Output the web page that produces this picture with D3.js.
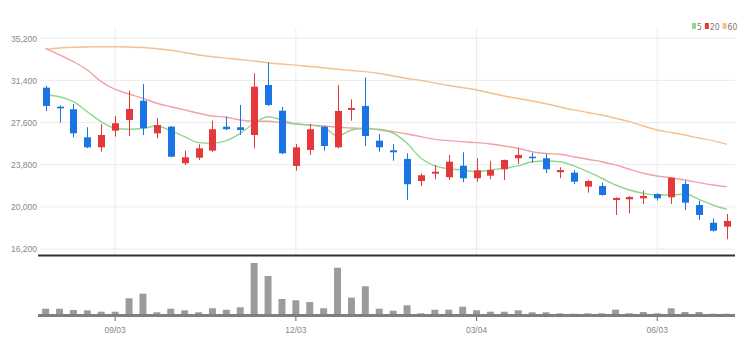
<!DOCTYPE html>
<html>
<head>
<meta charset="utf-8">
<script src="https://cdn.jsdelivr.net/npm/d3@7"></script>
<style>
  body { margin: 0; background: #fff; }
  svg { display: block; font-family: "Liberation Sans Narrow", "DejaVu Sans Condensed", sans-serif; }
  .axis text { fill: #888; font-size: 8.5px; }
  .axis path { display: none; }
  .x-axis line { stroke: #666; }
  .legend text { fill: #777; font-size: 8.5px; }
</style>
</head>
<body>
<svg id="chart"></svg>
<script>
// weekly candles, MM/DD
const dates = ['07/30','08/06','08/13','08/20','08/27','09/03','09/10','09/17','09/24','10/01',
  '10/08','10/15','10/22','10/29','11/05','11/12','11/19','11/26','12/03','12/10',
  '12/17','12/24','12/31','01/07','01/14','01/21','01/28','02/04','02/11','02/18',
  '02/25','03/04','03/11','03/18','03/25','04/01','04/08','04/15','04/22','04/29',
  '05/06','05/13','05/20','05/27','06/03','06/10','06/17','06/24','07/01','07/08'];

const openPrices = [30750, 29030, 28800, 26270, 25370, 26870, 27830, 29570, 26630, 27230,
  23930, 24430, 25070, 27230, 27180, 26480, 30990, 28670, 23690, 25130,
  27230, 25370, 28740, 29100, 25970, 25100, 24320, 22330, 22990, 22670,
  23710, 22580, 22810, 23390, 24380, 24520, 24380, 23120, 23080, 21820,
  21880, 20620, 20680, 20770, 21160, 20860, 22060, 20170, 18570, 18210];

const closePrices = [29100, 28880, 26630, 25370, 26480, 27540, 28830, 27090, 27380, 24520,
  24470, 25280, 27000, 27000, 26930, 30840, 29190, 24830, 25370, 27000,
  25490, 28650, 28920, 26390, 25370, 24920, 22040, 22850, 23170, 24070,
  22580, 23300, 23320, 24230, 24680, 24410, 23390, 23320, 22270, 22330,
  21070, 20800, 20890, 20980, 20770, 22630, 20380, 19270, 17850, 18730];

const highPrices = [30930, 29160, 29280, 27180, 27470, 28190, 30480, 31080, 27990, 27290,
  25070, 25640, 27770, 28130, 29190, 32050, 33000, 29030, 25670, 27470,
  27290, 30990, 29700, 31680, 26570, 25670, 24830, 23030, 23780, 24680,
  24920, 24380, 24140, 24260, 25280, 24880, 24770, 23570, 23320, 22420,
  22180, 20860, 20980, 21460, 21220, 22660, 22360, 20560, 18970, 19360];

const lowPrices = [28650, 27590, 26270, 25300, 24970, 26330, 26390, 26480, 26180, 24470,
  23780, 24230, 24950, 26930, 26480, 25280, 29100, 24770, 23260, 24680,
  25070, 25280, 27770, 25490, 24970, 24160, 20620, 21880, 22490, 22420,
  22220, 22270, 22490, 22420, 23870, 23980, 23030, 22580, 22060, 21280,
  21010, 19270, 19420, 20260, 20560, 20260, 19720, 18820, 17760, 17080];

// thousand shares
const volumes = [146, 146, 120, 114, 86, 86, 354, 446, 74, 146,
  114, 74, 154, 126, 174, 1060, 800, 340, 314, 280,
  154, 966, 366, 594, 146, 106, 214, 54, 126, 126,
  186, 114, 86, 86, 114, 74, 74, 54, 46, 54,
  54, 126, 54, 80, 54, 154, 80, 80, 46, 46];

const ma5 = [30090, 29930, 29480, 28580, 27680, 27090, 27000, 27090, 27290, 26870,
  26330, 25790, 25730, 25970, 26630, 27540, 28130, 27830, 27470, 27380,
  27180, 26390, 26930, 27090, 26930, 26660, 25730, 24380, 23690, 23440,
  23320, 23170, 23320, 23480, 23690, 24070, 24140, 24070, 23690, 23170,
  22580, 21970, 21520, 21220, 21070, 21070, 21160, 20680, 20170, 19780];

const ma20 = [34300, 33700, 33090, 32340, 31290, 30600, 30180, 29790, 29340, 29030,
  28740, 28440, 28190, 28080, 27830, 27720, 27720, 27590, 27470, 27380,
  27290, 27180, 27110, 27050, 27000, 26780, 26570, 26330, 26090, 25970,
  25880, 25790, 25670, 25490, 25280, 24970, 24810, 24740, 24520, 24290,
  24070, 23780, 23390, 23030, 22780, 22630, 22420, 22180, 21970, 21820];

const ma60 = [34210, 34330, 34390, 34420, 34440, 34440, 34420, 34370, 34260, 34120,
  33920, 33700, 33540, 33410, 33290, 33150, 33000, 32880, 32780, 32660,
  32540, 32410, 32300, 32190, 32030, 31800, 31580, 31400, 31170, 30940,
  30750, 30540, 30270, 30000, 29770, 29550, 29300, 29010, 28740, 28510,
  28280, 27990, 27680, 27290, 26930, 26710, 26480, 26210, 25970, 25640];

const xTickLabels = ['09/03', '12/03', '03/04', '06/03'];
const yTickValues = [16200, 20000, 23800, 27600, 31400, 35200];
const legendLabels = ['5', '20', '60'];

class CandleChart {
    constructor(_config) {
        this.config = {
            parentElement: _config.parentElement,
            containerWidth: 750,
            containerHeight: 355,
            plotLeft: 38.7,
            plotRight: 733.7,
            priceTop: 38.3,
            priceBottom: 249,
            volTop: 263,
            volBottom: 316
        }
        this.colors = { up: '#e5383b', down: '#1b74e4', ma5: '#90d68e', ma20: '#f2a0a6', ma60: '#f6bf8e' };
        this.initVis();
    }

    initVis() {
        let vis = this;
        const c = vis.config;

        vis.svg = d3.select(c.parentElement)
            .attr('width', c.containerWidth)
            .attr('height', c.containerHeight);

        vis.xScale = d3.scaleBand()
            .domain(dates)
            .range([c.plotLeft, c.plotRight])
            .paddingInner(0.5)
            .paddingOuter(0.25);

        vis.yScale = d3.scaleLinear()
            .domain([16200, 35200])
            .range([c.priceBottom, c.priceTop]);

        vis.volScale = d3.scaleLinear()
            .domain([0, d3.max(volumes)])
            .range([c.volBottom, c.volTop]);

        vis.gridG = vis.svg.append('g').attr('class', 'grid');
        vis.volG = vis.svg.append('g').attr('class', 'volume');
        vis.lineG = vis.svg.append('g').attr('class', 'ma-lines');
        vis.candleG = vis.svg.append('g').attr('class', 'candles');

        vis.yAxis = d3.axisLeft(vis.yScale)
            .tickValues(yTickValues)
            .tickSize(0)
            .tickPadding(3)
            .tickFormat(d3.format(','));

        vis.xAxis = d3.axisBottom(vis.xScale)
            .tickValues(xTickLabels)
            .tickSize(4)
            .tickPadding(6);

        vis.yAxisG = vis.svg.append('g')
            .attr('class', 'axis y-axis')
            .attr('transform', 'translate(40,0)');

        vis.xAxisG = vis.svg.append('g')
            .attr('class', 'axis x-axis')
            .attr('transform', `translate(0,${c.volBottom + 1})`);

        vis.renderVis();
    }

    renderVis() {
        let vis = this;
        const c = vis.config;
        const idx = d3.range(dates.length);
        const cx = i => vis.xScale(dates[i]) + vis.xScale.bandwidth() / 2;

        // grid
        vis.gridG.selectAll('.h-grid')
            .data(yTickValues)
          .join('line')
            .attr('class', 'h-grid')
            .attr('x1', 40).attr('x2', 735)
            .attr('y1', d => vis.yScale(d)).attr('y2', d => vis.yScale(d))
            .attr('stroke', '#ececec');

        vis.gridG.selectAll('.v-grid')
            .data(xTickLabels)
          .join('line')
            .attr('class', 'v-grid')
            .attr('x1', d => vis.xScale(d) + vis.xScale.bandwidth() / 2)
            .attr('x2', d => vis.xScale(d) + vis.xScale.bandwidth() / 2)
            .attr('y1', 28).attr('y2', 255)
            .attr('stroke', '#ececec');

        // volume bars
        vis.volG.selectAll('.vol-bar')
            .data(idx)
          .join('rect')
            .attr('class', 'vol-bar')
            .attr('x', i => vis.xScale(dates[i]))
            .attr('width', vis.xScale.bandwidth())
            .attr('y', i => vis.volScale(volumes[i]))
            .attr('height', i => c.volBottom - vis.volScale(volumes[i]))
            .attr('fill', '#9b9b9b');

        vis.volG.append('line')
            .attr('x1', 38).attr('x2', 735)
            .attr('y1', c.volBottom - 0.5).attr('y2', c.volBottom - 0.5)
            .attr('stroke', '#7f7f7f')
            .attr('stroke-width', 3);

        // separator between price and volume panes
        vis.volG.append('line')
            .attr('x1', 38).attr('x2', 735)
            .attr('y1', 255.5).attr('y2', 255.5)
            .attr('stroke', '#333')
            .attr('stroke-width', 2);

        // moving averages
        const series = [
            { key: 'ma60', values: ma60 },
            { key: 'ma20', values: ma20 },
            { key: 'ma5', values: ma5 }
        ];
        const line = d3.line()
            .x((d, i) => cx(i))
            .y(d => vis.yScale(d))
            .curve(d3.curveMonotoneX);

        vis.lineG.selectAll('.ma-line')
            .data(series)
          .join('path')
            .attr('class', 'ma-line')
            .attr('d', d => line(d.values))
            .attr('fill', 'none')
            .attr('stroke', d => vis.colors[d.key])
            .attr('stroke-width', 1.4);

        // candles
        const color = i => closePrices[i] >= openPrices[i] ? vis.colors.up : vis.colors.down;

        vis.candleG.selectAll('.wick')
            .data(idx)
          .join('line')
            .attr('class', 'wick')
            .attr('x1', i => Math.round(cx(i)) + 0.5)
            .attr('x2', i => Math.round(cx(i)) + 0.5)
            .attr('y1', i => vis.yScale(highPrices[i]))
            .attr('y2', i => vis.yScale(lowPrices[i]))
            .attr('stroke', color);

        vis.candleG.selectAll('.body')
            .data(idx)
          .join('rect')
            .attr('class', 'body')
            .attr('x', i => Math.round(cx(i)) + 0.5 - 3.5)
            .attr('width', 7)
            .attr('y', i => vis.yScale(Math.max(openPrices[i], closePrices[i])))
            .attr('height', i => Math.max(1.5, Math.abs(vis.yScale(openPrices[i]) - vis.yScale(closePrices[i]))))
            .attr('fill', color);

        // axes
        vis.yAxisG.call(vis.yAxis);
        vis.xAxisG.call(vis.xAxis);

        // legend
        const legend = vis.svg.append('g').attr('class', 'legend');
        const legendColors = [vis.colors.ma5, vis.colors.up, vis.colors.ma60];
        let lx = 692;
        legendLabels.forEach((label, i) => {
            legend.append('rect')
                .attr('x', lx).attr('y', 23)
                .attr('width', 4).attr('height', 6)
                .attr('fill', legendColors[i]);
            const t = legend.append('text')
                .attr('x', lx + 5).attr('y', 29.5)
                .text(label);
            lx += 5 + t.node().getComputedTextLength() + 3;
        });
    }
}

const chart = new CandleChart({ parentElement: '#chart' });
</script>
</body>
</html>
